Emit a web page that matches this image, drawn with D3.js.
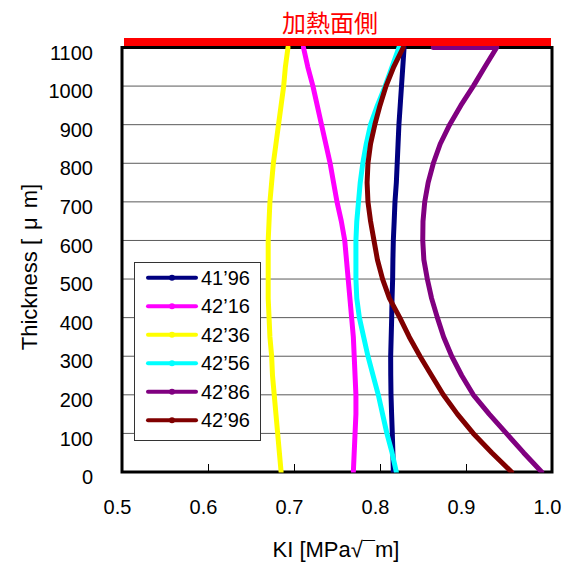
<!DOCTYPE html>
<html><head><meta charset="utf-8">
<script src="https://cdn.jsdelivr.net/npm/d3@7/dist/d3.min.js"></script>
<style>body{margin:0;background:#fff}svg{display:block}</style>
</head><body><svg id="c" width="573" height="562"></svg>
<script>
const thickness = [0,50,100,150,200,250,300,350,400,450,500,550,600,650,700,750,800,850,900,950,1000,1050,1100];
const s4196 = [0.8155,0.815,0.8143,0.8135,0.8128,0.8125,0.8124,0.813,0.8136,0.814,0.8147,0.815,0.8155,0.8165,0.8174,0.819,0.820,0.821,0.822,0.8235,0.825,0.8265,0.828];
const s4216 = [0.769,0.770,0.771,0.772,0.772,0.771,0.770,0.769,0.767,0.765,0.763,0.761,0.759,0.755,0.750,0.746,0.742,0.737,0.732,0.727,0.722,0.716,0.711];
const s4236 = [0.685,0.683,0.681,0.679,0.677,0.675,0.674,0.672,0.671,0.670,0.670,0.670,0.670,0.671,0.672,0.674,0.676,0.679,0.682,0.685,0.688,0.690,0.693];
const s4256 = [0.819,0.814,0.808,0.803,0.798,0.792,0.786,0.781,0.776,0.773,0.772,0.772,0.772,0.773,0.775,0.777,0.780,0.784,0.789,0.797,0.806,0.814,0.822];
const thickness4286 = thickness.concat([1100]);
const s4286 = [0.988,0.967,0.947,0.927,0.9085,0.895,0.8834,0.874,0.8667,0.860,0.855,0.851,0.8497,0.850,0.852,0.856,0.862,0.870,0.881,0.894,0.9085,0.922,0.9357,0.862];
const s4296 = [0.953,0.930,0.9085,0.890,0.8736,0.860,0.8465,0.834,0.823,0.811,0.803,0.797,0.793,0.789,0.786,0.785,0.786,0.789,0.794,0.800,0.807,0.816,0.827];
const seriesNames = ["41\u201996","42\u201916","42\u201936","42\u201956","42\u201986","42\u201996"];
const seriesColors = ["#000080","#FF00FF","#FFFF00","#00FFFF","#800080","#800000"];
const xTicks = [0.5,0.6,0.7,0.8,0.9,1.0];
const yTicks = [0,100,200,300,400,500,600,700,800,900,1000,1100];
const chartTitle = "加熱面側";

const series = [
  {name:seriesNames[0], color:seriesColors[0], t:thickness, v:s4196},
  {name:seriesNames[1], color:seriesColors[1], t:thickness, v:s4216},
  {name:seriesNames[2], color:seriesColors[2], t:thickness, v:s4236},
  {name:seriesNames[3], color:seriesColors[3], t:thickness, v:s4256},
  {name:seriesNames[4], color:seriesColors[4], t:thickness4286, v:s4286},
  {name:seriesNames[5], color:seriesColors[5], t:thickness, v:s4296}
];

const svg = d3.select("#c");
const L=122, R=552, T=47.5, B=472;
const x = d3.scaleLinear().domain([0.5,1.0]).range([L,R]);
const y = d3.scaleLinear().domain([0,1100]).range([B,T]);
const font = "'Liberation Sans', Arial, sans-serif";

// gridlines
svg.append("g").selectAll("line").data(yTicks.filter(d=>d>0&&d<1100)).join("line")
  .attr("x1",L).attr("x2",R).attr("y1",d=>y(d)).attr("y2",d=>y(d))
  .attr("stroke","#5a5a5a").attr("stroke-width",1);

// frame
svg.append("rect").attr("x",L).attr("y",T).attr("width",R-L).attr("height",B-T)
  .attr("fill","none").attr("stroke","#000").attr("stroke-width",3);

// x ticks (inward)
const xAxis = svg.append("g").attr("transform",`translate(0,${B})`)
  .call(d3.axisBottom(x).tickValues(xTicks).tickSize(-8).tickFormat(d3.format(".1f")));
xAxis.select(".domain").remove();
xAxis.selectAll("line").attr("stroke","#000").attr("stroke-width",1);
xAxis.selectAll("text").attr("font-family",font).attr("font-size",20).attr("fill","#000")
  .attr("dx",-5).attr("y",28);

// y axis labels
const yAxis = svg.append("g").attr("transform",`translate(${L},0)`)
  .call(d3.axisLeft(y).tickValues(yTicks).tickSize(0).tickPadding(29).tickFormat(d3.format("d")));
yAxis.select(".domain").remove();
yAxis.selectAll("text").attr("font-family",font).attr("font-size",20).attr("fill","#000").attr("dy","0.58em");

// lines
const line = d3.line().x(d=>x(d[1])).y(d=>y(d[0])).curve(d3.curveLinear);
const clipId="plotclip";
svg.append("clipPath").attr("id",clipId).append("rect").attr("x",L).attr("y",T-1.5).attr("width",R-L).attr("height",B-T+2);
svg.append("g").attr("clip-path",`url(#${clipId})`).selectAll("path").data(series).join("path")
  .attr("d",s=>line(s.t.map((t,i)=>[t,s.v[i]])))
  .attr("fill","none").attr("stroke",s=>s.color).attr("stroke-width",5)
  .attr("stroke-linejoin","round").attr("stroke-linecap","round");

// red heated-side bar
svg.append("rect").attr("x",x(0.5)+2).attr("y",38).attr("width",x(1.0)-x(0.5)-3).attr("height",8).attr("fill","#FF0000");

// title
svg.append("text").attr("x",330).attr("y",21).attr("text-anchor","middle").attr("dominant-baseline","central")
  .attr("font-family","'Noto Sans CJK JP', sans-serif").attr("font-size",24).attr("fill","#FF0000").text(chartTitle);

// axis titles
svg.append("text").attr("x",336).attr("y",557).attr("text-anchor","middle")
  .attr("font-family",font).attr("font-size",22).attr("fill","#000").text("KI [MPa\u221A\u00AFm]");
const yt = svg.append("text").attr("transform","translate(37,267) rotate(-90)").attr("text-anchor","middle")
  .attr("font-family",font).attr("font-size",22).attr("fill","#000");
yt.append("tspan").text("Thickness [");
yt.append("tspan").attr("dx",9).text("\u03BC");
yt.append("tspan").attr("dx",9).text("m]");

// legend
const lg = svg.append("g");
lg.append("rect").attr("x",134.5).attr("y",262.5).attr("width",126).attr("height",178)
  .attr("fill","#fff").attr("stroke","#333").attr("stroke-width",1);
const items = lg.selectAll("g.it").data(series).join("g").attr("class","it")
  .attr("transform",(d,i)=>`translate(0,${277.7+i*28.5})`);
items.append("line").attr("x1",148).attr("x2",196).attr("y1",0).attr("y2",0)
  .attr("stroke",d=>d.color).attr("stroke-width",4).attr("stroke-linecap","round");
items.append("circle").attr("cx",172).attr("cy",0).attr("r",3).attr("fill",d=>d.color);
items.append("text").attr("x",201).attr("y",0).attr("dominant-baseline","central")
  .attr("font-family",font).attr("font-size",20).attr("fill","#000").text(d=>d.name);
</script></body></html>
